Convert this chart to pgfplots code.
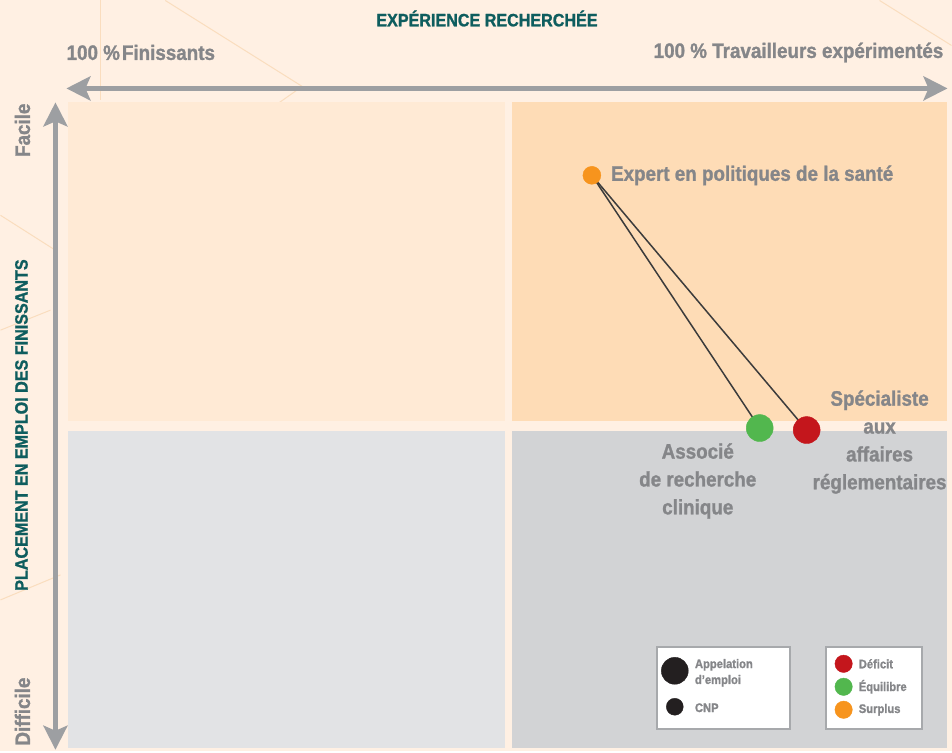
\documentclass[border=0pt]{standalone}
\usepackage{fontspec}
\setmainfont[FakeStretch=0.9, BoldFeatures={FakeBold=1.2}]{Liberation Sans}
\usepackage{pgfplots}
\pgfplotsset{compat=1.18}
\usetikzlibrary{arrows.meta}

\definecolor{fond}{HTML}{FFF0E3}
\definecolor{qhg}{HTML}{FFEAD5}
\definecolor{qhd}{HTML}{FEDCB6}
\definecolor{qbg}{HTML}{E2E3E5}
\definecolor{qbd}{HTML}{D2D3D5}
\definecolor{filet}{HTML}{FADDBE}
\definecolor{sarcelle}{HTML}{0E5D5E}
\definecolor{gristexte}{HTML}{858689}
\definecolor{grisfleche}{HTML}{9D9FA2}
\definecolor{trait}{HTML}{3C3C3C}
\definecolor{deficit}{HTML}{C4161C}
\definecolor{equilibre}{HTML}{52B74E}
\definecolor{surplus}{HTML}{F7941D}
\definecolor{noir}{HTML}{231F20}
\definecolor{cadre}{HTML}{A7A9AC}

\begin{document}
\begin{tikzpicture}
\begin{axis}[
    width=952bp, height=751bp, scale only axis,
    xmin=0, xmax=952, ymin=0, ymax=751,
    y dir=reverse,
    hide axis,
    clip=false
]
    % fond et quadrants
    \fill[fond] (0,0) rectangle (952,751);
    \draw[filet, line width=1bp] (165,0) -- (302,86) -- (268,110);
    \draw[filet, line width=1bp] (100,0) -- (100,100);
    \draw[filet, line width=1bp] (0,215) -- (55,250);
    \draw[filet, line width=1bp] (0,330) -- (50,310);
    \draw[filet, line width=1bp] (0,600) -- (60,575);
    \draw[filet, line width=1bp] (880,0) -- (952,45);
    \fill[qhg] (68,102) rectangle (505,421);
    \fill[qhd] (512,102) rectangle (947,421);
    \fill[qbg] (68,431) rectangle (505,748);
    \fill[qbd] (512,431) rectangle (947,748);

    % fleches
    \draw[grisfleche, line width=5bp, {Stealth[length=24bp,width=24bp,inset=5bp]}-{Stealth[length=24bp,width=24bp,inset=5bp]}] (66,88) -- (948,88);
    \draw[grisfleche, line width=5bp, {Stealth[length=24bp,width=24bp,inset=5bp]}-{Stealth[length=24bp,width=24bp,inset=5bp]}] (55,102) -- (55,750);

    % titres
    \node[sarcelle, font=\fontsize{18}{20}\selectfont\bfseries] at (487,18) {EXPÉRIENCE RECHERCHÉE};
    \node[gristexte, anchor=west, inner sep=0pt, font=\fontsize{21}{24}\selectfont\bfseries] at (66,52) {100 \%\hspace{2bp}Finissants};
    \node[gristexte, anchor=east, inner sep=0pt, font=\fontsize{21}{24}\selectfont\bfseries] at (944,52) {100 \% Travailleurs expérimentés};
    \node[gristexte, rotate=90, anchor=east, inner sep=0pt, font=\fontsize{21}{24}\selectfont\bfseries] at (22,103) {Facile};
    \node[gristexte, rotate=90, anchor=west, inner sep=0pt, font=\fontsize{21}{24}\selectfont\bfseries] at (22,746) {Difficile};
    \node[sarcelle, rotate=90, inner sep=0pt, font=\fontsize{18}{20}\selectfont\bfseries] at (21,425) {PLACEMENT EN EMPLOI DES FINISSANTS};

    % liens entre l'appellation et les CNP
    \addplot[trait, line width=1.5bp] coordinates {(592,175) (760,428)};
    \addplot[trait, line width=1.5bp] coordinates {(592,175) (807,430)};

    % points
    \addplot[only marks, mark=*, mark size=9bp, surplus] coordinates {(592,175)};
    \addplot[only marks, mark=*, mark size=13.5bp, equilibre] coordinates {(760,428)};
    \addplot[only marks, mark=*, mark size=13.5bp, deficit] coordinates {(807,430)};

    % etiquettes
    \node[gristexte, anchor=west, inner sep=0pt, font=\fontsize{21}{24}\selectfont\bfseries] at (611,175) {Expert en politiques de la santé};
    \node[gristexte, align=center, inner sep=0pt, font=\fontsize{21}{28}\selectfont\bfseries] at (880,442) {Spécialiste\\aux\\affaires\\réglementaires};
    \node[gristexte, align=center, inner sep=0pt, font=\fontsize{21}{28}\selectfont\bfseries] at (698,481) {Associé\\de recherche\\clinique};

    % legendes
    \draw[cadre, line width=2bp, fill=white] (657,647) rectangle (790,729);
    \draw[cadre, line width=2bp, fill=white] (826,647) rectangle (922,729);
    \addplot[only marks, mark=*, mark size=13.5bp, noir] coordinates {(675,671)};
    \addplot[only marks, mark=*, mark size=8.5bp, noir] coordinates {(675,707)};
    \addplot[only marks, mark=*, mark size=8.7bp, deficit] coordinates {(844,664)};
    \addplot[only marks, mark=*, mark size=8.7bp, equilibre] coordinates {(844,687)};
    \addplot[only marks, mark=*, mark size=8.7bp, surplus] coordinates {(844,710)};
    \node[gristexte, anchor=west, align=left, inner sep=0pt, font=\fontsize{12.5}{16}\selectfont\bfseries] at (695,673) {Appelation\\d'emploi};
    \node[gristexte, anchor=west, inner sep=0pt, font=\fontsize{12.5}{16}\selectfont\bfseries] at (695,708) {CNP};
    \node[gristexte, anchor=west, inner sep=0pt, font=\fontsize{12.5}{16}\selectfont\bfseries] at (859,664) {Déficit};
    \node[gristexte, anchor=west, inner sep=0pt, font=\fontsize{12.5}{16}\selectfont\bfseries] at (859,687) {Équilibre};
    \node[gristexte, anchor=west, inner sep=0pt, font=\fontsize{12.5}{16}\selectfont\bfseries] at (859,710) {Surplus};
\end{axis}
\end{tikzpicture}
\end{document}
